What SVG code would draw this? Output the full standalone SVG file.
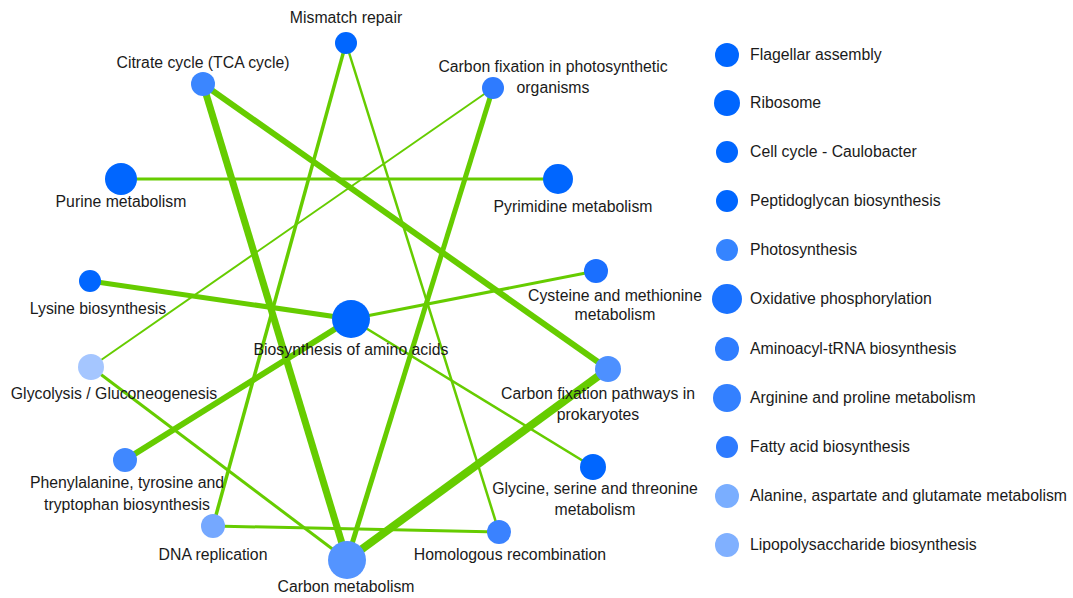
<svg xmlns="http://www.w3.org/2000/svg" width="1073" height="598" viewBox="0 0 1073 598">
<style>
text{font-family:"Liberation Sans",Arial,sans-serif;font-size:15.8px;fill:#1a1a1a}
.c{text-anchor:middle}
.e{stroke:#66cc00;fill:none;stroke-linecap:butt}
</style>
<rect width="1073" height="598" fill="#ffffff"/>
<g id="connectors">
<line class="e" x1="346" y1="43" x2="213" y2="526" stroke-width="3.5"/>
<line class="e" x1="346" y1="43" x2="499" y2="532" stroke-width="2.5"/>
<line class="e" x1="203" y1="84" x2="347" y2="560" stroke-width="7"/>
<line class="e" x1="203" y1="84" x2="608" y2="369" stroke-width="6"/>
<line class="e" x1="493" y1="88" x2="347" y2="560" stroke-width="5"/>
<line class="e" x1="493" y1="88" x2="91" y2="367" stroke-width="2"/>
<line class="e" x1="121" y1="179" x2="558" y2="179" stroke-width="3"/>
<line class="e" x1="90" y1="281" x2="351" y2="319" stroke-width="5"/>
<line class="e" x1="596" y1="271" x2="351" y2="319" stroke-width="3"/>
<line class="e" x1="351" y1="319" x2="125" y2="460" stroke-width="6"/>
<line class="e" x1="351" y1="319" x2="593" y2="467" stroke-width="2.5"/>
<line class="e" x1="91" y1="367" x2="347" y2="560" stroke-width="3"/>
<line class="e" x1="608" y1="369" x2="347" y2="560" stroke-width="8"/>
<line class="e" x1="213" y1="526" x2="499" y2="532" stroke-width="3"/>
</g>
<g id="n-mismatch"><circle cx="346" cy="43" r="11" fill="#0066ff"/><text class="c" x="346" y="23">Mismatch repair</text></g>
<g id="n-citrate"><circle cx="203" cy="84" r="12" fill="#3b86ff"/><text class="c" x="203" y="68">Citrate cycle (TCA cycle)</text></g>
<g id="n-cfix-photo"><circle cx="493" cy="88" r="11" fill="#2e7bff"/><text class="c" x="553" y="72">Carbon fixation in photosynthetic</text><text class="c" x="553" y="93">organisms</text></g>
<g id="n-purine"><circle cx="121" cy="179" r="16" fill="#0066ff"/><text class="c" x="121" y="207">Purine metabolism</text></g>
<g id="n-pyrimidine"><circle cx="558" cy="179" r="15" fill="#0066ff"/><text class="c" x="573" y="212">Pyrimidine metabolism</text></g>
<g id="n-lysine"><circle cx="90" cy="281" r="11" fill="#0066ff"/><text class="c" x="98" y="314">Lysine biosynthesis</text></g>
<g id="n-cysteine"><circle cx="596" cy="271" r="12" fill="#1a6fff"/><text class="c" x="615" y="301">Cysteine and methionine</text><text class="c" x="615" y="320">metabolism</text></g>
<g id="n-glycolysis"><circle cx="91" cy="367" r="13" fill="#a5c6ff"/><text class="c" x="114" y="399">Glycolysis / Gluconeogenesis</text></g>
<g id="n-cfix-prok"><circle cx="608" cy="369" r="13" fill="#4d90ff"/><text class="c" x="598" y="399">Carbon fixation pathways in</text><text class="c" x="598" y="420">prokaryotes</text></g>
<g id="n-glycine"><circle cx="593" cy="467" r="13" fill="#0066ff"/><text class="c" x="595" y="494">Glycine, serine and threonine</text><text class="c" x="595" y="515">metabolism</text></g>
<g id="n-phenyl"><circle cx="125" cy="460" r="12" fill="#4088ff"/><text class="c" x="127" y="488">Phenylalanine, tyrosine and</text><text class="c" x="127" y="510">tryptophan biosynthesis</text></g>
<g id="n-dna"><circle cx="213" cy="526" r="12" fill="#75a8ff"/><text class="c" x="213" y="560">DNA replication</text></g>
<g id="n-homologous"><circle cx="499" cy="532" r="12" fill="#3a82ff"/><text class="c" x="510" y="560">Homologous recombination</text></g>
<g id="n-carbon"><circle cx="347" cy="560" r="19" fill="#5494ff"/><text class="c" x="346" y="592">Carbon metabolism</text></g>
<g id="n-biosyn"><circle cx="351" cy="319" r="19" fill="#0066ff"/><text class="c" x="351" y="355">Biosynthesis of amino acids</text></g>
<g id="legend">
<g id="l1"><circle cx="727" cy="55" r="12" fill="#0066ff"/><text x="750" y="60">Flagellar assembly</text></g>
<g id="l2"><circle cx="727" cy="103" r="13" fill="#0066ff"/><text x="750" y="108">Ribosome</text></g>
<g id="l3"><circle cx="727" cy="152" r="11" fill="#0066ff"/><text x="750" y="157">Cell cycle - Caulobacter</text></g>
<g id="l4"><circle cx="727" cy="201" r="11" fill="#0066ff"/><text x="750" y="206">Peptidoglycan biosynthesis</text></g>
<g id="l5"><circle cx="727" cy="250" r="11" fill="#3584ff"/><text x="750" y="255">Photosynthesis</text></g>
<g id="l6"><circle cx="727" cy="299" r="15" fill="#1a72ff"/><text x="750" y="304">Oxidative phosphorylation</text></g>
<g id="l7"><circle cx="727" cy="349" r="12" fill="#2f7dff"/><text x="750" y="354">Aminoacyl-tRNA biosynthesis</text></g>
<g id="l8"><circle cx="727" cy="398" r="14" fill="#3380ff"/><text x="750" y="403">Arginine and proline metabolism</text></g>
<g id="l9"><circle cx="727" cy="447" r="11" fill="#2e7bff"/><text x="750" y="452">Fatty acid biosynthesis</text></g>
<g id="l10"><circle cx="727" cy="496" r="12" fill="#7aaeff"/><text x="750" y="501">Alanine, aspartate and glutamate metabolism</text></g>
<g id="l11"><circle cx="727" cy="545" r="12" fill="#80b0ff"/><text x="750" y="550">Lipopolysaccharide biosynthesis</text></g>
</g>
</svg>
